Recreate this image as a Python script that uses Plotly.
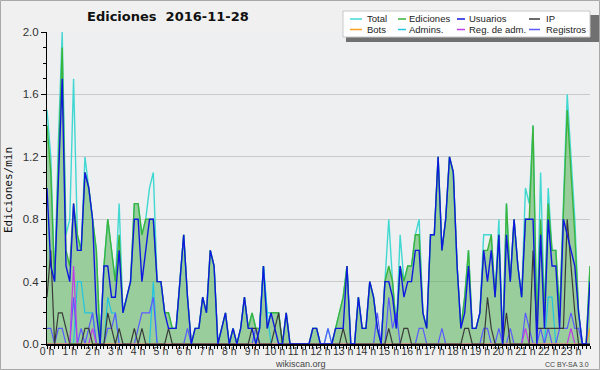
import plotly.graph_objects as go

# ---------------- data (10-minute slots, edits per minute) ----------------
hour_labels = [f"{h} h" for h in range(24)]

usuarios = [
    1.0, 0.5, 0.4, 1.0, 1.7, 0.5, 0.4, 0.9, 0.6, 0.6, 1.1, 1.0,
    0.8, 0.2, 0.0, 0.5, 0.5, 0.3, 0.3, 0.6, 0.2, 0.3, 0.4, 0.8,
    0.8, 0.4, 0.6, 0.8, 0.8, 0.4, 0.4, 0.2, 0.1, 0.1, 0.1, 0.4,
    0.7, 0.3, 0.0, 0.1, 0.1, 0.3, 0.2, 0.6, 0.5, 0.0, 0.1, 0.2,
    0.0, 0.1, 0.0, 0.1, 0.3, 0.1, 0.1, 0.0, 0.1, 0.5, 0.1, 0.2,
    0.1, 0.0, 0.0, 0.2, 0.0, 0.0, 0.0, 0.0, 0.0, 0.0, 0.1, 0.1,
    0.0, 0.0, 0.0, 0.0, 0.1, 0.1, 0.1, 0.5, 0.0, 0.0, 0.3, 0.1,
    0.1, 0.4, 0.3, 0.1, 0.0, 0.4, 0.4, 0.3, 0.1, 0.5, 0.3, 0.4,
    0.4, 0.6, 0.6, 0.2, 0.1, 0.7, 0.7, 1.2, 0.6, 0.8, 1.2, 1.1,
    0.5, 0.1, 0.2, 0.5, 0.1, 0.1, 0.2, 0.6, 0.4, 0.6, 0.3, 0.7,
    0.0, 0.7, 0.4, 0.8, 0.5, 0.3, 0.8, 0.8, 0.8, 0.0, 0.7, 0.1,
    0.8, 0.5, 0.5, 0.1, 0.8, 0.7, 0.6, 0.5, 0.2, 0.0, 0.0, 0.4,
]

ip = [
    0.3, 0.6, 0.0, 0.2, 0.2, 0.1, 0.0, 0.0, 0.0, 0.0, 0.1, 0.1,
    0.0, 0.0, 0.0, 0.0, 0.2, 0.1, 0.0, 0.1, 0.0, 0.0, 0.0, 0.1,
    0.0, 0.1, 0.0, 0.0, 0.0, 0.0, 0.0, 0.0, 0.1, 0.0, 0.0, 0.0,
    0.0, 0.0, 0.0, 0.0, 0.0, 0.0, 0.0, 0.0, 0.0, 0.0, 0.0, 0.0,
    0.0, 0.0, 0.0, 0.0, 0.0, 0.0, 0.1, 0.1, 0.0, 0.0, 0.0, 0.0,
    0.1, 0.2, 0.0, 0.0, 0.0, 0.0, 0.0, 0.0, 0.0, 0.0, 0.0, 0.0,
    0.0, 0.0, 0.0, 0.0, 0.0, 0.0, 0.1, 0.0, 0.0, 0.0, 0.0, 0.0,
    0.0, 0.0, 0.0, 0.0, 0.0, 0.0, 0.1, 0.0, 0.0, 0.0, 0.1, 0.1,
    0.0, 0.0, 0.0, 0.0, 0.0, 0.0, 0.0, 0.0, 0.0, 0.0, 0.0, 0.0,
    0.0, 0.0, 0.1, 0.1, 0.0, 0.0, 0.0, 0.0, 0.3, 0.1, 0.0, 0.0,
    0.0, 0.2, 0.0, 0.0, 0.0, 0.0, 0.0, 0.0, 0.6, 0.1, 0.1, 0.1,
    0.1, 0.1, 0.1, 0.1, 0.1, 0.8, 0.5, 0.2, 0.0, 0.0, 0.0, 0.0,
]

ediciones = [
    1.4, 1.1, 0.4, 1.2, 1.9, 0.6, 0.5, 0.9, 0.7, 0.6, 1.1, 1.0,
    0.8, 0.6, 0.0, 0.5, 0.8, 0.6, 0.4, 0.7, 0.2, 0.3, 0.4, 0.9,
    0.9, 0.7, 0.8, 0.8, 0.8, 0.4, 0.4, 0.2, 0.2, 0.1, 0.1, 0.4,
    0.7, 0.3, 0.0, 0.1, 0.1, 0.3, 0.2, 0.6, 0.5, 0.0, 0.1, 0.2,
    0.0, 0.1, 0.0, 0.1, 0.3, 0.1, 0.2, 0.1, 0.1, 0.5, 0.1, 0.2,
    0.2, 0.2, 0.0, 0.2, 0.0, 0.0, 0.0, 0.0, 0.0, 0.0, 0.1, 0.1,
    0.0, 0.0, 0.0, 0.0, 0.1, 0.2, 0.3, 0.5, 0.0, 0.0, 0.3, 0.1,
    0.1, 0.4, 0.3, 0.1, 0.0, 0.4, 0.5, 0.4, 0.1, 0.5, 0.4, 0.5,
    0.5, 0.7, 0.7, 0.2, 0.1, 0.7, 0.7, 1.2, 0.6, 0.8, 1.2, 1.1,
    0.5, 0.1, 0.3, 0.6, 0.1, 0.1, 0.2, 0.6, 0.6, 0.7, 0.3, 0.7,
    0.0, 0.9, 0.4, 0.8, 0.5, 0.3, 0.8, 0.8, 1.4, 0.1, 0.8, 0.2,
    0.9, 0.6, 0.6, 0.2, 0.9, 1.5, 1.1, 0.7, 0.2, 0.0, 0.0, 0.5,
]

total = [
    1.5, 1.2, 0.4, 1.3, 2.0, 0.7, 0.8, 1.7, 0.7, 0.6, 1.2, 1.0,
    0.8, 0.6, 0.0, 0.5, 0.8, 0.6, 0.4, 0.9, 0.2, 0.3, 0.4, 0.9,
    0.9, 0.7, 0.8, 1.0, 1.1, 0.4, 0.4, 0.2, 0.2, 0.1, 0.1, 0.4,
    0.7, 0.3, 0.0, 0.1, 0.1, 0.3, 0.2, 0.6, 0.5, 0.0, 0.1, 0.2,
    0.0, 0.1, 0.0, 0.1, 0.3, 0.1, 0.2, 0.1, 0.1, 0.5, 0.2, 0.2,
    0.2, 0.2, 0.0, 0.2, 0.0, 0.0, 0.0, 0.0, 0.0, 0.0, 0.1, 0.1,
    0.0, 0.0, 0.1, 0.0, 0.1, 0.2, 0.3, 0.5, 0.0, 0.0, 0.3, 0.1,
    0.1, 0.4, 0.3, 0.1, 0.0, 0.4, 0.8, 0.4, 0.1, 0.7, 0.4, 0.5,
    0.5, 0.7, 0.8, 0.2, 0.1, 0.7, 0.7, 1.2, 0.6, 0.8, 1.2, 1.1,
    0.5, 0.1, 0.3, 0.6, 0.1, 0.1, 0.2, 0.7, 0.7, 0.7, 0.3, 0.8,
    0.0, 0.9, 0.4, 0.8, 0.5, 0.3, 1.0, 0.9, 1.4, 0.1, 1.1, 0.2,
    1.0, 0.6, 0.6, 0.2, 0.9, 1.6, 1.2, 0.8, 0.2, 0.0, 0.0, 0.5,
]

admins = [0.0] * 144
for i, v in [(8, 0.4), (9, 0.4), (10, 0.2), (11, 0.2), (12, 0.2), (16, 0.3), (17, 0.2),
             (18, 0.2), (28, 0.4), (56, 0.1), (57, 0.5), (58, 0.2), (132, 0.3), (133, 0.3)]:
    admins[i] = v

registros = [0.0] * 144
for i, v in [(0, 0.1), (1, 0.1), (3, 0.1), (4, 0.1), (7, 0.3), (9, 0.1), (11, 0.1), (12, 0.2),
             (16, 0.1), (17, 0.1), (18, 0.2), (24, 0.1), (25, 0.2), (26, 0.2), (27, 0.2), (28, 0.3),
             (37, 0.1), (55, 0.1), (74, 0.1), (87, 0.2), (90, 0.3), (91, 0.1), (92, 0.2), (98, 0.1),
             (99, 0.1), (104, 0.1), (115, 0.1), (116, 0.1), (119, 0.1), (122, 0.1), (126, 0.2),
             (127, 0.1), (130, 0.1), (132, 0.1), (135, 0.1), (136, 0.1), (137, 0.1), (138, 0.2),
             (139, 0.1), (140, 0.1)]:
    registros[i] = v

reg_adm = [0.0] * 144
for i, v in [(7, 0.5), (12, 0.1), (126, 0.1), (138, 0.1)]:
    reg_adm[i] = v

bots = [0.0] * 144
bots[143] = 0.1

slots = list(range(144))

legend_names = ["Total", "Ediciones", "Usuarios", "IP", "Bots", "Admins.", "Reg. de adm.", "Registros"]

# ---------------- styling ----------------
C = {
    "Total": "#42d8d2",
    "Ediciones": "#3cb43c",
    "Usuarios": "#1018e0",
    "IP": "#3a3a3a",
    "Bots": "#ffa020",
    "Admins.": "#22c4e0",
    "Reg. de adm.": "#c03ce8",
    "Registros": "#5a5aff",
}
FONT = "Liberation Sans"

W, H = 600, 370
L, R, T, B = 47, 10, 32, 26
PW, PH = W - L - R, H - T - B


def px(x):
    return (x - L) / PW


def py(y):
    return (H - B - y) / PH


fig = go.Figure()

# filled area of Ediciones
fig.add_trace(go.Scatter(x=slots, y=ediciones, mode="lines", fill="tozeroy",
                         fillcolor="rgba(60,170,60,0.47)", line=dict(width=0),
                         showlegend=False, hoverinfo="skip"))
fig.add_trace(go.Scatter(x=slots, y=total, mode="lines", name="Total",
                         line=dict(color=C["Total"], width=1.4)))
fig.add_trace(go.Scatter(x=slots, y=ediciones, mode="lines", name="Ediciones",
                         line=dict(color=C["Ediciones"], width=1.4)))
fig.add_trace(go.Scatter(x=slots, y=admins, mode="lines", name="Admins.",
                         line=dict(color=C["Admins."], width=1.2)))
fig.add_trace(go.Scatter(x=slots, y=registros, mode="lines", name="Registros",
                         line=dict(color=C["Registros"], width=1.2)))
fig.add_trace(go.Scatter(x=slots, y=reg_adm, mode="lines", name="Reg. de adm.",
                         line=dict(color=C["Reg. de adm."], width=1.2)))
fig.add_trace(go.Scatter(x=slots, y=bots, mode="lines", name="Bots",
                         line=dict(color=C["Bots"], width=1.2)))
fig.add_trace(go.Scatter(x=slots, y=ip, mode="lines", name="IP",
                         line=dict(color=C["IP"], width=1.2)))
fig.add_trace(go.Scatter(x=slots, y=usuarios, mode="lines", name="Usuarios",
                         line=dict(color=C["Usuarios"], width=1.4)))

shapes = []
annotations = []

# outer frame
shapes.append(dict(type="rect", xref="paper", yref="paper",
                   x0=px(0.5), x1=px(W - 0.5), y0=py(0.5), y1=py(H - 0.5),
                   line=dict(color="#a8a8a8", width=1), fillcolor="rgba(0,0,0,0)", layer="above"))

# legend (shadow + box)
shapes.append(dict(type="rect", xref="paper", yref="paper",
                   x0=px(346), x1=px(599), y0=py(42), y1=py(15),
                   line=dict(width=0), fillcolor="#707070", layer="above"))
shapes.append(dict(type="rect", xref="paper", yref="paper",
                   x0=px(343), x1=px(590), y0=py(37), y1=py(11),
                   line=dict(color="#c8c8c8", width=1), fillcolor="#ffffff", layer="above"))

sw_cols = [(350, 362), (398, 406), (457, 465), (529, 540)]
tx_cols = [366, 408, 468, 545]
rows = [19, 29.5]
for k, name in enumerate(legend_names):
    r, c = divmod(k, 4)
    yy = py(rows[r])
    shapes.append(dict(type="line", xref="paper", yref="paper",
                       x0=px(sw_cols[c][0]), x1=px(sw_cols[c][1]), y0=yy, y1=yy,
                       line=dict(color=C[name], width=1.5), layer="above"))
    annotations.append(dict(text=name, xref="paper", yref="paper", x=px(tx_cols[c]), y=yy,
                            xanchor="left", yanchor="middle", showarrow=False, borderpad=0,
                            font=dict(family=FONT, size=9.5, color="#222222")))

# title
annotations.append(dict(text="<b>Ediciones  2016-11-28</b>", xref="paper", yref="paper",
                        x=px(168), y=py(17), xanchor="center", yanchor="middle", showarrow=False,
                        font=dict(family="DejaVu Sans", size=13, color="#111111")))
# y-axis title
annotations.append(dict(text="Ediciones/min", xref="paper", yref="paper",
                        x=px(8), y=py(190), xanchor="center", yanchor="middle", showarrow=False,
                        textangle=-90,
                        font=dict(family="DejaVu Sans Mono", size=11, color="#111111")))
# footer
annotations.append(dict(text="wikiscan.org", xref="paper", yref="paper",
                        x=px(300), y=py(364), xanchor="center", yanchor="middle", showarrow=False,
                        borderpad=0,
                        font=dict(family=FONT, size=9, color="#444444")))
annotations.append(dict(text="CC BY-SA 3.0", xref="paper", yref="paper",
                        x=px(590), y=py(364), xanchor="right", yanchor="middle", showarrow=False,
                        borderpad=0,
                        font=dict(family=FONT, size=7, color="#444444")))

fig.update_layout(
    width=W, height=H,
    autosize=False,
    margin=dict(l=L, r=R, t=T, b=B, pad=0, autoexpand=False),
    paper_bgcolor="#f0f0f0",
    plot_bgcolor="#edeff1",
    showlegend=False,
    shapes=shapes,
    annotations=annotations,
    font=dict(family=FONT, size=11, color="#333333"),
)

fig.update_xaxes(
    range=[0, 143],
    tickmode="array",
    tickvals=[6 * h for h in range(24)],
    ticktext=hour_labels,
    tickangle=0,
    automargin=False,
    ticks="outside", ticklen=3, tickwidth=1, tickcolor="#000000",
    ticklabelstandoff=-6,
    minor=dict(dtick=1, ticks="outside", ticklen=3, tickwidth=1, tickcolor="#000000", showgrid=False),
    showgrid=False, zeroline=False,
    showline=True, linecolor="#000000", linewidth=1.5,
    tickfont=dict(family=FONT, size=10.5, color="#333333"),
)
fig.update_yaxes(
    range=[0, 2.0],
    tick0=0, dtick=0.4, tickformat=".1f",
    automargin=False,
    ticks="outside", ticklen=5, tickwidth=1, tickcolor="#000000",
    minor=dict(dtick=0.1, ticks="outside", ticklen=3, tickwidth=1, tickcolor="#000000", showgrid=False),
    showgrid=True, gridcolor="#cacaca", gridwidth=1,
    zeroline=False,
    showline=True, linecolor="#000000", linewidth=1,
    tickfont=dict(family=FONT, size=11.5, color="#333333"),
)

fig.write_html("out.html", config={"displayModeBar": False},
               post_script="document.body.style.margin='0';document.body.style.padding='0';")
